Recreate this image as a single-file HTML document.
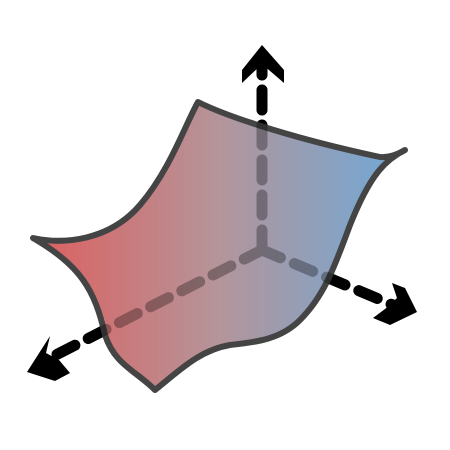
<!DOCTYPE html>
<html><head><meta charset="utf-8"><style>html,body{margin:0;padding:0;background:#fff}svg{display:block}</style></head>
<body>
<svg width="450" height="450" viewBox="0 0 450 450">
<defs>
<linearGradient id="g" x1="33" y1="0" x2="405" y2="0" gradientUnits="userSpaceOnUse">
<stop offset="0" stop-color="#de5f5e"/><stop offset="0.5" stop-color="#b4959a"/><stop offset="1" stop-color="#6fa9d8"/></linearGradient>
</defs>
<g stroke="#000" stroke-width="11" stroke-linecap="round" stroke-dasharray="20 15" fill="none">
<line x1="262" y1="250" x2="262" y2="60"/>
<line x1="262" y1="250" x2="42" y2="362"/>
<line x1="262" y1="250" x2="400" y2="308"/>
</g>
<polygon points="262,45 284,70 284,83 262,64 242,83 242,70" fill="#000"/>
<polygon points="27,372 50,336 46,353 59,360 70,373 55,381" fill="#000"/>
<polygon points="417,312 405,288 392,283 397,298 385,309 373,318 390,325" fill="#000"/>
<path d="M198,102 C230,118 300,140 380,157 C390,158 400,153 405,150 C385,160 370,175 350,225 C335,265 325,295 300,320 C280,340 255,342 230,345 C200,350 180,370 155,390 C135,370 115,365 105,335 C95,290 80,265 33,238 C65,245 110,240 140,205 C170,170 185,125 198,102 Z" fill="url(#g)" stroke="#444" stroke-width="6" stroke-linejoin="round"/>
<g stroke="#000" stroke-width="11" stroke-linecap="round" stroke-dasharray="20 15" fill="none" opacity="0.3">
<line x1="262" y1="250" x2="262" y2="60"/>
<line x1="262" y1="250" x2="42" y2="362"/>
<line x1="262" y1="250" x2="400" y2="308"/>
</g>
</svg>
</body></html>
